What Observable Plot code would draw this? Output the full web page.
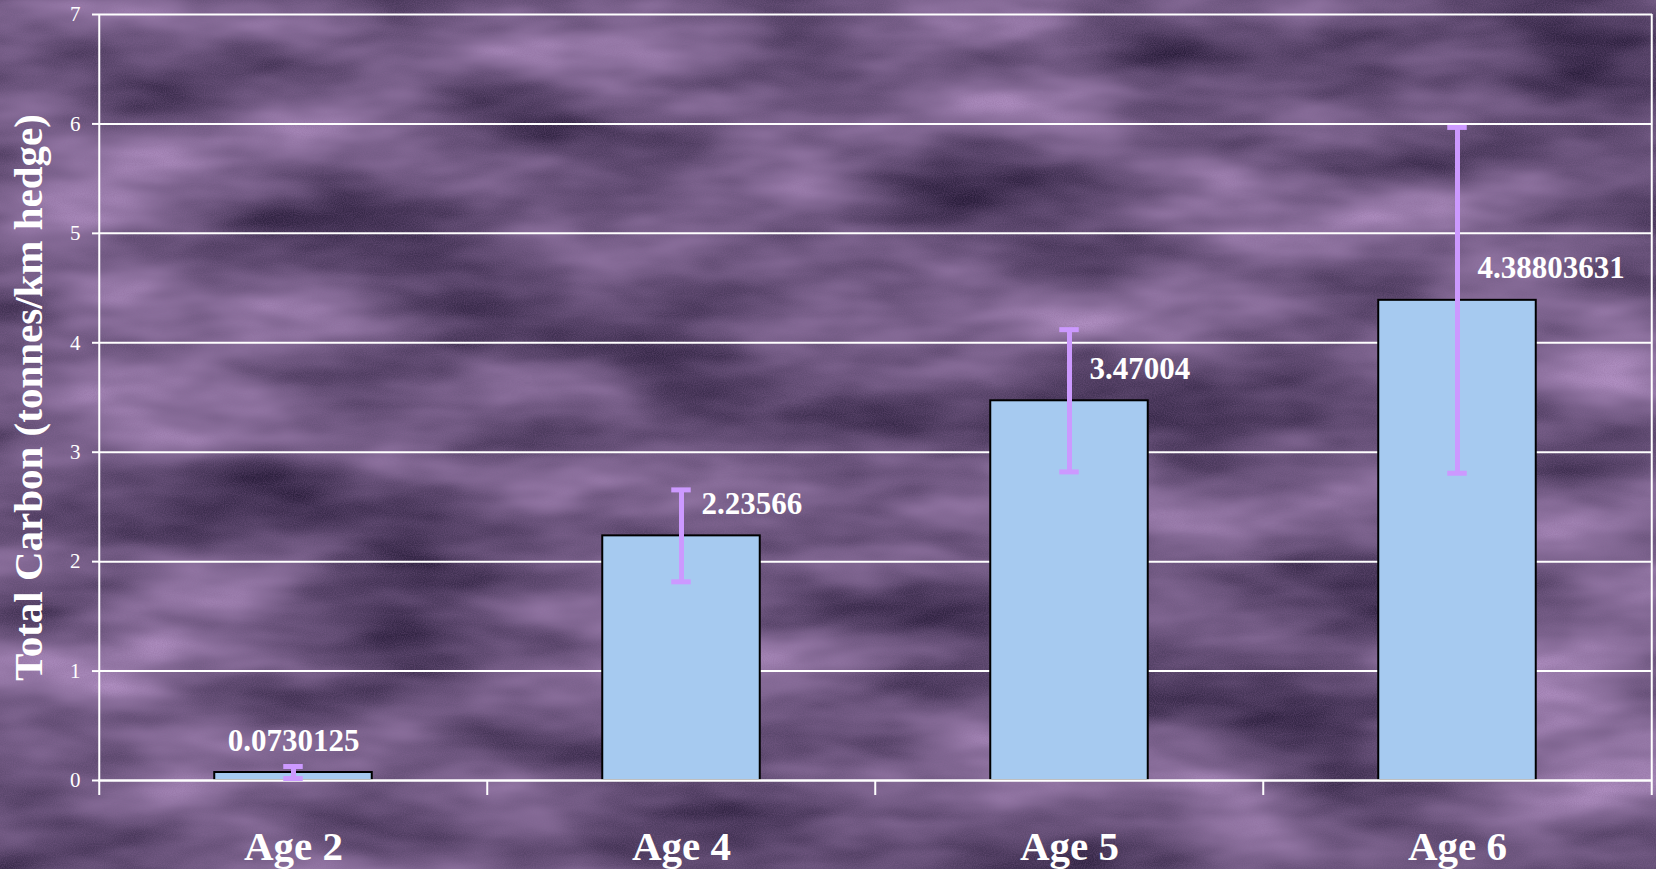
<!DOCTYPE html>
<html>
<head>
<meta charset="utf-8">
<script src="https://cdn.jsdelivr.net/npm/d3@7"></script>
<script src="https://cdn.jsdelivr.net/npm/@observablehq/plot@0.6"></script>
<style>
  html, body { margin: 0; padding: 0; background: #6a5476; overflow: hidden; }
  #wrap { position: relative; width: 1656px; height: 869px; }
  #bg { position: absolute; left: 0; top: 0; }
  #chart { position: absolute; left: 0; top: 0; }
  #chart svg { background: transparent !important; }
</style>
</head>
<body>
<div id="wrap">
  <svg id="bg" width="1656" height="869">
    <defs>
      <filter id="clouds" x="0" y="0" width="100%" height="100%" color-interpolation-filters="sRGB">
        <feTurbulence type="fractalNoise" baseFrequency="0.0035 0.011" numOctaves="4" seed="7" result="t"/>
        <feColorMatrix in="t" type="matrix" values="0.85 0 0 0 -0.01  0.72 0 0 0 -0.03  0.85 0 0 0 0.06  0 0 0 0 1" result="c"/>
        <feTurbulence type="fractalNoise" baseFrequency="0.9" numOctaves="1" seed="3" result="g"/>
        <feColorMatrix in="g" type="matrix" values="0 0 0 0 0.55  0 0 0 0 0.4  0 0 0 0 0.6  0.6 0 0 0 -0.2" result="g2"/>
        <feComposite in="g2" in2="c" operator="over"/>
      </filter>
    </defs>
    <rect width="1656" height="869" filter="url(#clouds)"/>
  </svg>
  <div id="chart"></div>
</div>
<script>
const categories = ["Age 2", "Age 4", "Age 5", "Age 6"];
const values = [0.0730125, 2.23566, 3.47004, 4.38803631];
const errors = [0.055, 0.42, 0.65, 1.58];
const labels = ["0.0730125", "2.23566", "3.47004", "4.38803631"];
const yTicks = [0, 1, 2, 3, 4, 5, 6, 7];
const yTitle = "Total Carbon (tonnes/km hedge)";

const data = categories.map((c, i) => ({
  cat: c, v: values[i], lo: values[i] - errors[i], hi: values[i] + errors[i], label: labels[i], i
}));

const W = 1656, H = 869;
const mL = 98, mR = 4, mT = 14, mB = 89;
const step = (W - mL - mR) / categories.length;
const half = step / 2;
const barW = 158;
const capW = 20;
const tickDepth = 15 / ((H - mT - mB) / 7);
const serif = "'Liberation Serif', 'Times New Roman', serif";
const white = "#ffffff";

const chart = Plot.plot({
  width: W, height: H,
  marginLeft: mL, marginRight: mR, marginTop: mT, marginBottom: mB,
  style: { background: "transparent", fontFamily: serif, color: white },
  x: { domain: categories, padding: 0, label: null },
  y: { domain: [0, 7], label: null },
  marks: [
    Plot.ruleY(yTicks.slice(1), { stroke: white, strokeWidth: 2, strokeOpacity: 1 }),
    Plot.axisY({ ticks: yTicks, tickSize: 6, tickPadding: 12, tickFormat: d => String(d), fontSize: 21, fill: white, stroke: white, strokeWidth: 2, label: null }),
    Plot.axisX({ tickSize: 0, tickPadding: 50, fontSize: 41, fontWeight: "bold", fill: white, label: null }),
    Plot.barY(data, { x: "cat", y: "v", fill: "#a6caf0", stroke: "#000000", strokeWidth: 2,
      insetLeft: (step - barW) / 2, insetRight: (step - barW) / 2 }),
    Plot.ruleY([0], { stroke: white, strokeWidth: 2.5 }),
    // frame verticals at left and right and category boundary ticks
    Plot.ruleX([categories[0]], { x: d => d, y1: -tickDepth, y2: 7, dx: -half, stroke: white, strokeWidth: 2 }),
    Plot.ruleX([categories[categories.length - 1]], { x: d => d, y1: -tickDepth, y2: 7, dx: half, stroke: white, strokeWidth: 2 }),
    Plot.ruleX(categories.slice(1), { x: d => d, y1: -tickDepth, y2: 0, dx: -half, stroke: white, strokeWidth: 2 }),
    // error bars
    Plot.ruleX(data, { x: "cat", y1: "lo", y2: "hi", stroke: "#cc99ff", strokeWidth: 5 }),
    Plot.tickY(data, { x: "cat", y: "hi", stroke: "#cc99ff", strokeWidth: 5, insetLeft: (step - capW) / 2, insetRight: (step - capW) / 2 }),
    Plot.tickY(data, { x: "cat", y: "lo", stroke: "#cc99ff", strokeWidth: 5, insetLeft: (step - capW) / 2, insetRight: (step - capW) / 2 }),
    // value labels
    Plot.text(data.filter(d => d.i === 0), { x: "cat", y: "v", text: "label", lineAnchor: "bottom", dy: -22,
      textAnchor: "middle", fontSize: 31, fontWeight: "bold", fill: white }),
    Plot.text(data.filter(d => d.i > 0), { x: "cat", y: "v", text: "label", lineAnchor: "bottom", dy: -22, dx: 20,
      textAnchor: "start", fontSize: 31, fontWeight: "bold", fill: white }),
    // y title
    Plot.text([yTitle], { frameAnchor: "left", text: d => d, rotate: -90, dx: -70, fontSize: 41,
      fontWeight: "bold", fill: white, lineAnchor: "middle", textAnchor: "middle" })
  ]
});
document.getElementById("chart").appendChild(chart);
</script>
</body>
</html>
